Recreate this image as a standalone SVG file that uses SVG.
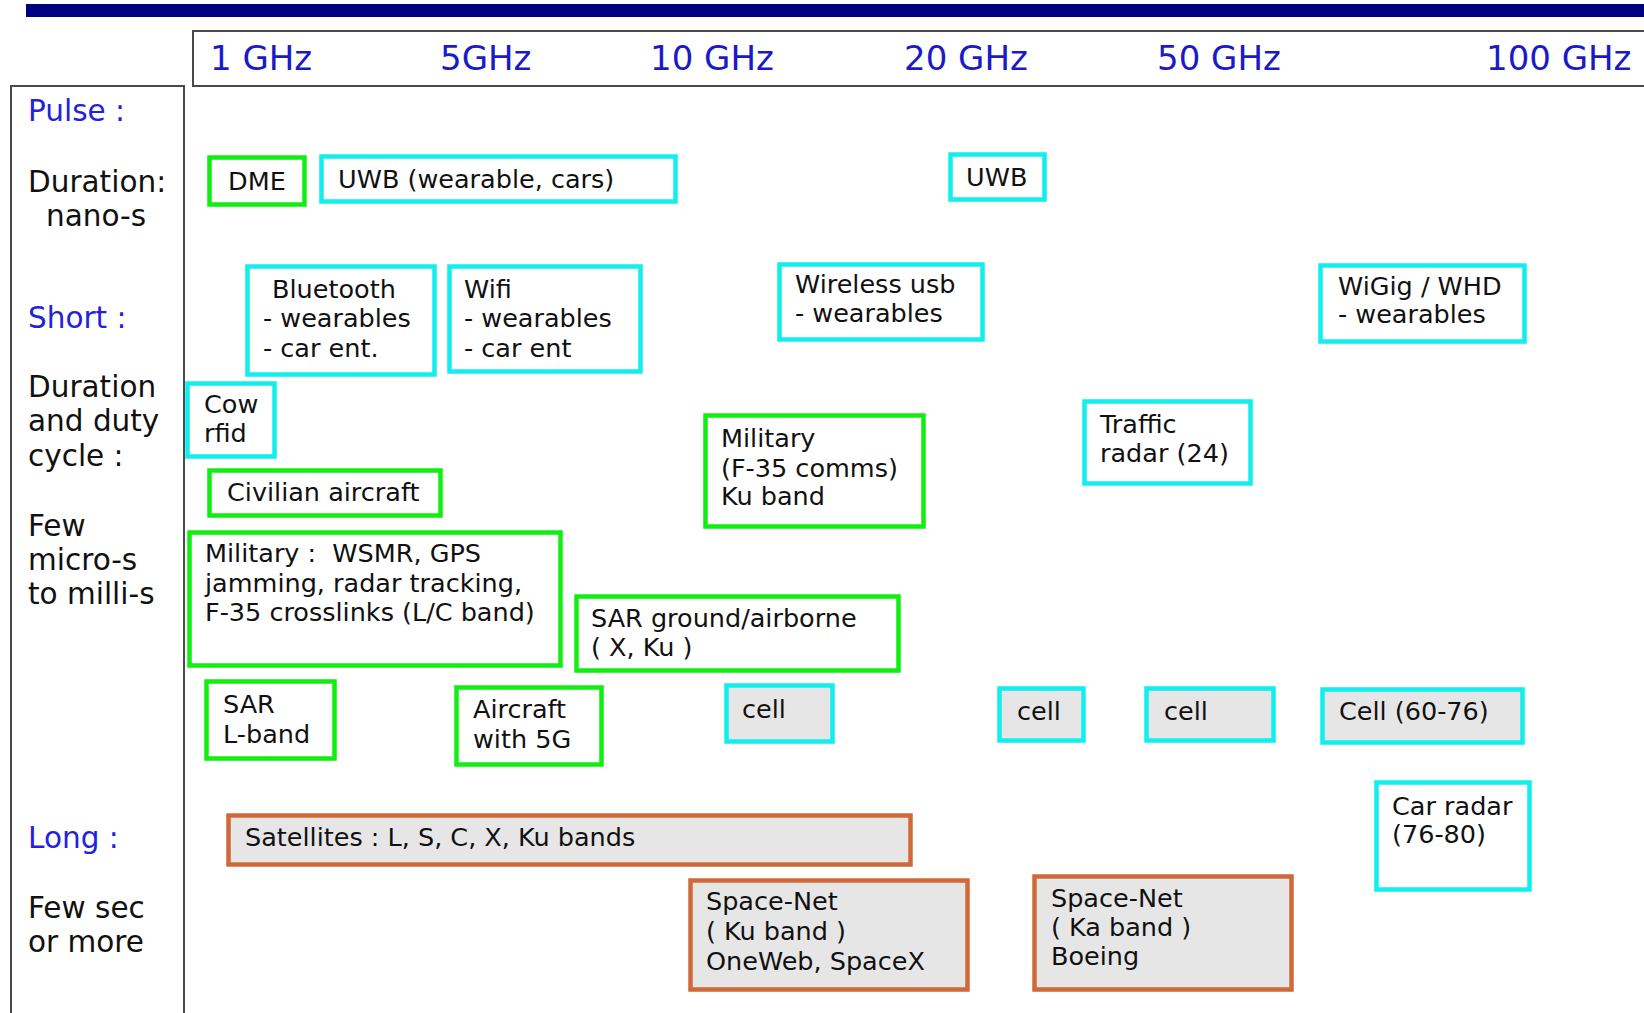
<svg xmlns="http://www.w3.org/2000/svg" width="1644" height="1013" viewBox="0 0 1644 1013">
<style>
  text { font-family: "DejaVu Sans", Verdana, sans-serif; }
  .frame { fill: #ffffff; stroke: #4a4a4a; stroke-width: 2; }
  .freq { font-size: 34px; fill: #1a1ac8; }
  .side { font-size: 29.5px; fill: #111111; }
  .sideb { font-size: 29.5px; fill: #2222dd; }
  .g { fill: #ffffff; stroke: #11ee11; stroke-width: 4.5; }
  .c { fill: #ffffff; stroke: #11eeee; stroke-width: 4.5; }
  .cf { fill: #e6e6e6; stroke: #11eeee; stroke-width: 4.5; }
  .o { fill: #e6e6e6; stroke: #d0693a; stroke-width: 4.5; }
  .t { font-size: 25.5px; fill: #111111; }
</style>
<rect x="0" y="0" width="1644" height="1013" fill="#ffffff"/>
<rect x="26" y="4" width="1620" height="13" fill="#000080"/>
<g id="header">
  <rect class="frame" x="193" y="31" width="1460" height="55"/>
  <text class="freq" x="210" y="70">1 GHz</text>
  <text class="freq" x="440" y="70">5GHz</text>
  <text class="freq" x="650" y="70">10 GHz</text>
  <text class="freq" x="904" y="70">20 GHz</text>
  <text class="freq" x="1157" y="70">50 GHz</text>
  <text class="freq" x="1486" y="70">100 GHz</text>
</g>
<g id="legend">
  <rect class="frame" x="11" y="86" width="173" height="940"/>
  <text class="sideb" x="28" y="121">Pulse :</text>
  <text class="side" x="28" y="192">Duration:</text>
  <text class="side" x="46" y="226">nano-s</text>
  <text class="sideb" x="28" y="328">Short :</text>
  <text class="side" x="28" y="397">Duration</text>
  <text class="side" x="28" y="431">and duty</text>
  <text class="side" x="28" y="466">cycle :</text>
  <text class="side" x="28" y="536">Few</text>
  <text class="side" x="28" y="570">micro-s</text>
  <text class="side" x="28" y="604">to milli-s</text>
  <text class="sideb" x="28" y="848">Long :</text>
  <text class="side" x="28" y="918">Few sec</text>
  <text class="side" x="28" y="952">or more</text>
</g>
<g id="connectors"></g>
<g id="dme"><rect class="g" x="209.5" y="157.5" width="95" height="47"/><text class="t" x="228" y="190">DME</text></g>
<g id="uwb-wearable"><rect class="c" x="321.5" y="156.5" width="354" height="45"/><text class="t" x="338" y="188">UWB (wearable, cars)</text></g>
<g id="uwb"><rect class="c" x="950.5" y="154.5" width="94" height="45"/><text class="t" x="966" y="186">UWB</text></g>
<g id="bluetooth"><rect class="c" x="247.5" y="266.5" width="187" height="108"/>
  <text class="t" x="272" y="298">Bluetooth</text><text class="t" x="263" y="327">- wearables</text><text class="t" x="263" y="357">- car ent.</text></g>
<g id="wifi"><rect class="c" x="449.5" y="266.5" width="191" height="105"/>
  <text class="t" x="464" y="298">Wifi</text><text class="t" x="464" y="327">- wearables</text><text class="t" x="464" y="357">- car ent</text></g>
<g id="wireless-usb"><rect class="c" x="779.5" y="264.5" width="203" height="75"/>
  <text class="t" x="795" y="293">Wireless usb</text><text class="t" x="795" y="322">- wearables</text></g>
<g id="wigig"><rect class="c" x="1320.5" y="265.5" width="204" height="76"/>
  <text class="t" x="1338" y="295">WiGig / WHD</text><text class="t" x="1338" y="323">- wearables</text></g>
<g id="cow-rfid"><rect class="c" x="187.5" y="383.5" width="87" height="73"/>
  <text class="t" x="204" y="413">Cow</text><text class="t" x="204" y="442">rfid</text></g>
<g id="military-ku"><rect class="g" x="705.5" y="415.5" width="218" height="111"/>
  <text class="t" x="721" y="447">Military</text><text class="t" x="721" y="477">(F-35 comms)</text><text class="t" x="721" y="505">Ku band</text></g>
<g id="traffic-radar"><rect class="c" x="1084.5" y="401.5" width="166" height="82"/>
  <text class="t" x="1100" y="433">Traffic</text><text class="t" x="1100" y="462">radar (24)</text></g>
<g id="civilian-aircraft"><rect class="g" x="209.5" y="470.5" width="231" height="45"/>
  <text class="t" x="227" y="501">Civilian aircraft</text></g>
<g id="military-lc"><rect class="g" x="189.5" y="532.5" width="371" height="133"/>
  <text class="t" x="205" y="562" xml:space="preserve">Military :  WSMR, GPS</text><text class="t" x="205" y="592">jamming, radar tracking,</text><text class="t" x="205" y="621">F-35 crosslinks (L/C band)</text></g>
<g id="sar-ground"><rect class="g" x="576.5" y="596.5" width="322" height="74"/>
  <text class="t" x="591" y="627">SAR ground/airborne</text><text class="t" x="591" y="656">( X, Ku )</text></g>
<g id="sar-l"><rect class="g" x="206.5" y="681.5" width="128" height="77"/>
  <text class="t" x="223" y="713">SAR</text><text class="t" x="223" y="743">L-band</text></g>
<g id="aircraft-5g"><rect class="g" x="456.5" y="687.5" width="145" height="77"/>
  <text class="t" x="473" y="718">Aircraft</text><text class="t" x="473" y="748">with 5G</text></g>
<g id="cell-1"><rect class="cf" x="726.5" y="685.5" width="106" height="56"/><text class="t" x="742" y="718">cell</text></g>
<g id="cell-2"><rect class="cf" x="999.5" y="688.5" width="84" height="52"/><text class="t" x="1017" y="720">cell</text></g>
<g id="cell-3"><rect class="cf" x="1146.5" y="688.5" width="127" height="52"/><text class="t" x="1164" y="720">cell</text></g>
<g id="cell-60-76"><rect class="cf" x="1322.5" y="689.5" width="200" height="53"/><text class="t" x="1339" y="720">Cell (60-76)</text></g>
<g id="car-radar"><rect class="c" x="1376.5" y="782.5" width="153" height="107"/>
  <text class="t" x="1392" y="815">Car radar</text><text class="t" x="1392" y="843">(76-80)</text></g>
<g id="satellites"><rect class="o" x="228.5" y="815.5" width="682" height="49"/>
  <text class="t" x="245" y="846">Satellites : L, S, C, X, Ku bands</text></g>
<g id="spacenet-ku"><rect class="o" x="690.5" y="880.5" width="277" height="109"/>
  <text class="t" x="706" y="910">Space-Net</text><text class="t" x="706" y="940">( Ku band )</text><text class="t" x="706" y="970">OneWeb, SpaceX</text></g>
<g id="spacenet-ka"><rect class="o" x="1034.5" y="876.5" width="257" height="113"/>
  <text class="t" x="1051" y="907">Space-Net</text><text class="t" x="1051" y="936">( Ka band )</text><text class="t" x="1051" y="965">Boeing</text></g>
</svg>
